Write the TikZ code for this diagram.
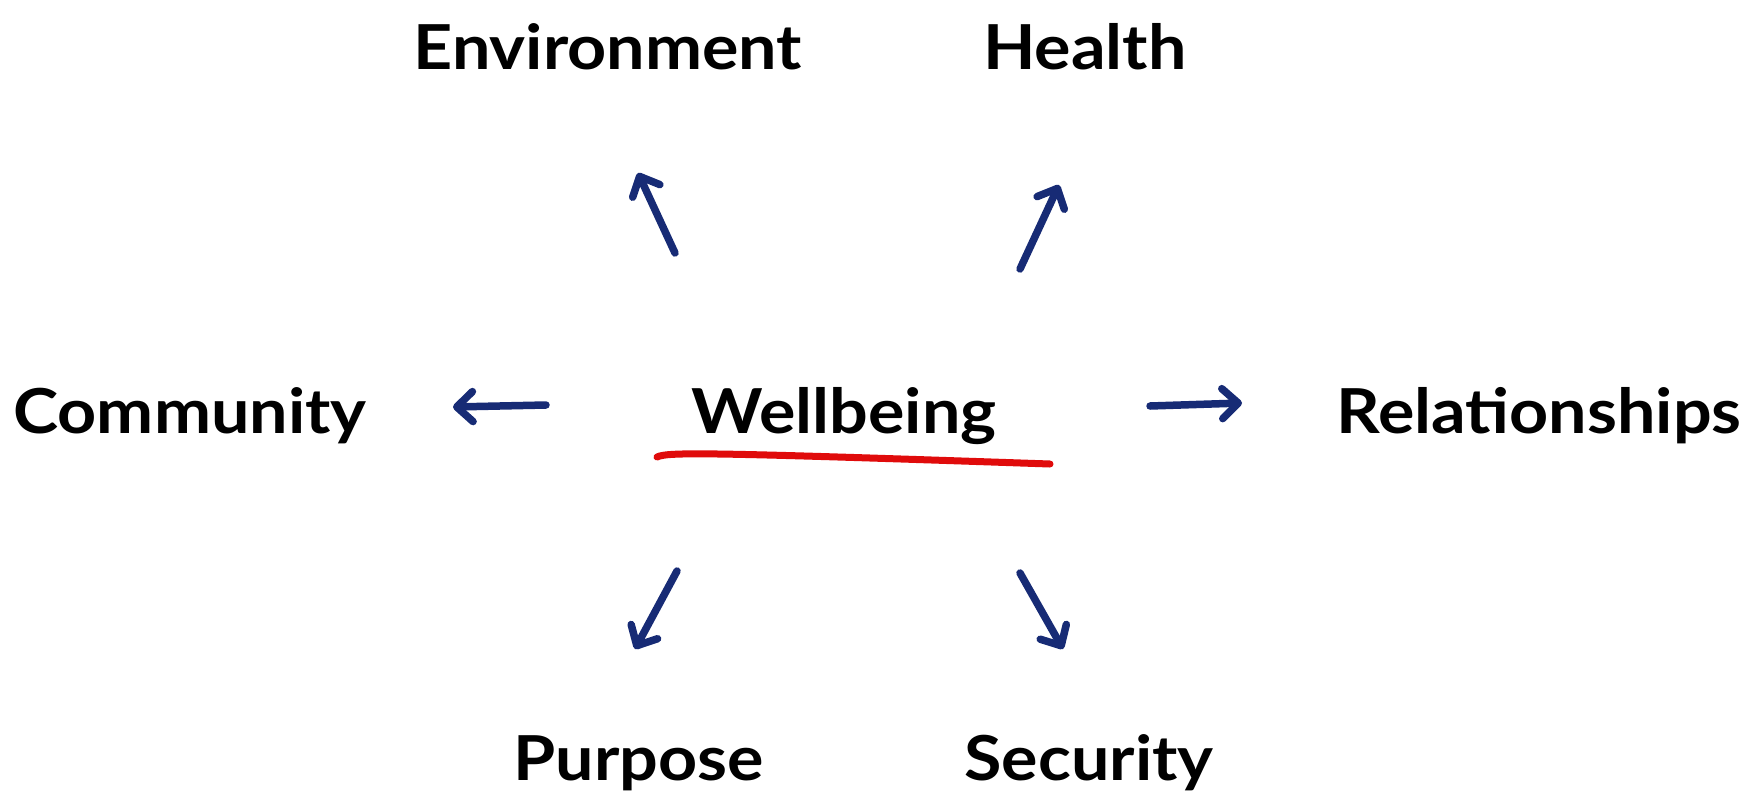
\documentclass[tikz,border=0pt]{standalone}
\usepackage{fontspec}
\setmainfont{Lato}[FakeStretch=1.1]
\usetikzlibrary{arrows.meta}
\definecolor{arrowblue}{HTML}{172B75}
\definecolor{penred}{HTML}{E00B0B}
\tikzset{
  lbl/.style={font=\fontsize{62}{70}\selectfont\bfseries, text=black, inner sep=0pt, anchor=base},
  conn/.style={draw=arrowblue, line width=7.5pt, line cap=round, line join=round,
    -{Straight Barb[length=16pt,width=30pt,round]}},
  under/.style={draw=penred, line width=7pt, line cap=round}
}
\begin{document}
\begin{tikzpicture}[x=1pt,y=-1pt]
\useasboundingbox (0,0) rectangle (1755,790);
\clip (0,0) rectangle (1755,790);
% labels
\node[lbl] (env) at (608,69) {Environment};
\node[lbl] (hea) at (1085,69) {Health};
\node[lbl] (com) at (190,433) {Community};
\node[lbl] (wel) at (844,433) {Wellbeing};
\node[lbl] (rel) at (1539,433) {Relationships};
\node[lbl] (pur) at (639,780) {Purpose};
\node[lbl] (sec) at (1089,780) {Security};
% arrow ends
\coordinate (envT) at (675,253);  \coordinate (envH) at (638,173);
\coordinate (heaT) at (1020,269); \coordinate (heaH) at (1059,185);
\coordinate (comT) at (546,405);  \coordinate (comH) at (453,407);
\coordinate (relT) at (1150,406); \coordinate (relH) at (1242,403);
\coordinate (purT) at (677,571);  \coordinate (purH) at (635,649);
\coordinate (secT) at (1020,573); \coordinate (secH) at (1063,649);
\draw[conn] (envT) -- (envH);
\draw[conn] (heaT) -- (heaH);
\draw[conn] (comT) -- (comH);
\draw[conn] (relT) -- (relH);
\draw[conn] (purT) -- (purH);
\draw[conn] (secT) -- (secH);
% underline
\coordinate (u1) at (657,457);
\coordinate (u2) at (1050,464);
\draw[under] (u1) .. controls (668,452) and (700,452) .. (u2);
\end{tikzpicture}
\end{document}
